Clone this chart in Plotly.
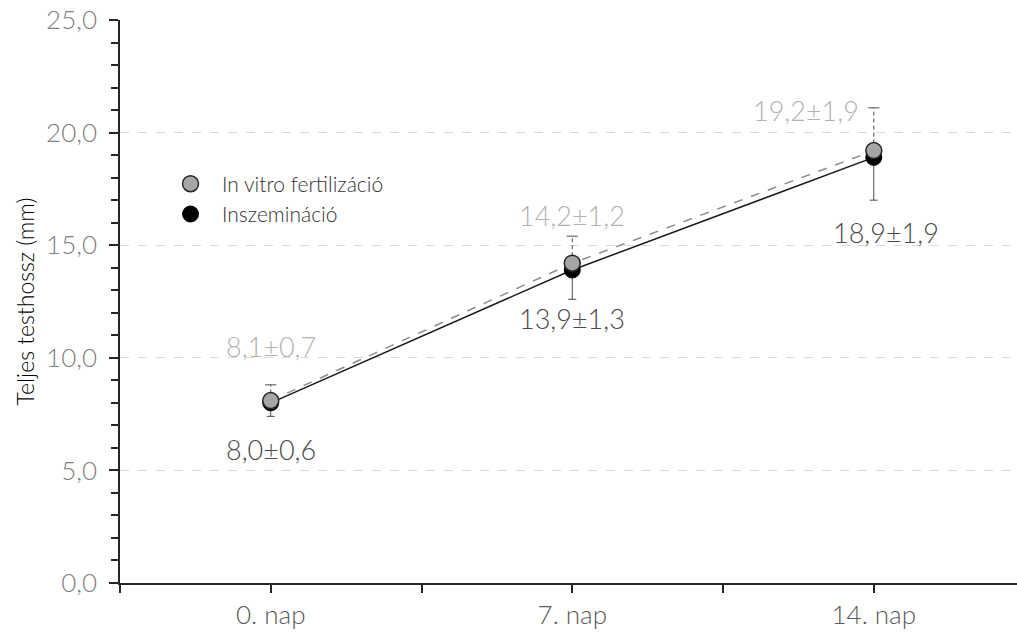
import plotly.graph_objects as go

# Mérési napok és átlagos teljes testhossz (mm) ± szórás
days = ["0. nap", "7. nap", "14. nap"]
ivf_mean = [8.1, 14.2, 19.2]
ivf_sd = [0.7, 1.2, 1.9]
ins_mean = [8.0, 13.9, 18.9]
ins_sd = [0.6, 1.3, 1.9]
y_ticks = [0, 5, 10, 15, 20, 25]

FONT = "Lato"
LIGHT = 300
x_pos = list(range(len(days)))


def fmt(v):
    return f"{v:.1f}".replace(".", ",")


fig = go.Figure()

# connecting lines
fig.add_trace(go.Scatter(x=x_pos, y=ins_mean, mode="lines",
                         line=dict(color="#1a1a1a", width=1.5),
                         showlegend=False, hoverinfo="skip"))
fig.add_trace(go.Scatter(x=x_pos, y=ivf_mean, mode="lines",
                         line=dict(color="#8c8c8c", width=1.5, dash="dash"),
                         showlegend=False, hoverinfo="skip"))

# IVF upper error bars: dashed stems with a cap on top
stem_x, stem_y = [], []
for x, m, s in zip(x_pos, ivf_mean, ivf_sd):
    stem_x += [x, x, None]
    stem_y += [m, m + s, None]
fig.add_trace(go.Scatter(x=stem_x, y=stem_y, mode="lines",
                         line=dict(color="#4d4d4d", width=1, dash="4px,3px"),
                         showlegend=False, hoverinfo="skip"))
fig.add_trace(go.Scatter(x=x_pos, y=[m + s for m, s in zip(ivf_mean, ivf_sd)],
                         mode="markers",
                         marker=dict(symbol="line-ew", size=8,
                                     line=dict(color="#4d4d4d", width=1)),
                         showlegend=False, hoverinfo="skip"))

# insemination markers with lower error bars
fig.add_trace(go.Scatter(
    x=x_pos, y=ins_mean, mode="markers", name="Inszemináció",
    legendrank=2,
    marker=dict(color="#000000", size=16, line=dict(color="#000000", width=1)),
    error_y=dict(type="data", symmetric=False, array=[0] * len(ins_sd),
                 arrayminus=ins_sd, color="#4d4d4d", thickness=1, width=4),
))
# IVF markers
fig.add_trace(go.Scatter(
    x=x_pos, y=ivf_mean, mode="markers", name="In vitro fertilizáció",
    legendrank=1,
    marker=dict(color="#a6a6a6", size=16, line=dict(color="#262626", width=1.5)),
))

# value labels
ivf_offsets = [(0, 54), (0, 48), (-68, 40)]
ins_offsets = [(0, -47), (0, -49), (12, -75)]
for x, m, s, (dx, dy) in zip(x_pos, ivf_mean, ivf_sd, ivf_offsets):
    fig.add_annotation(x=x, y=m, text=f"{fmt(m)}±{fmt(s)}", showarrow=False,
                       xshift=dx, yshift=dy, xanchor="center", yanchor="middle",
                       font=dict(family=FONT, size=27, weight=LIGHT, color="#b3b3b3"))
for x, m, s, (dx, dy) in zip(x_pos, ins_mean, ins_sd, ins_offsets):
    fig.add_annotation(x=x, y=m, text=f"{fmt(m)}±{fmt(s)}", showarrow=False,
                       xshift=dx, yshift=dy, xanchor="center", yanchor="middle",
                       font=dict(family=FONT, size=27, weight=LIGHT, color="#4a4a4a"))

# category ticks at centres and boundaries, labels only at centres
x_tickvals = [v / 2 for v in range(-1, 2 * len(days))]
x_ticktext = [days[int(v)] if float(v).is_integer() and v >= 0 else "" for v in x_tickvals]

fig.update_layout(
    width=1017, height=635,
    margin=dict(l=120, r=0, t=20, b=52),
    paper_bgcolor="white", plot_bgcolor="white",
    separators=", ",
    font=dict(family=FONT),
    legend=dict(x=0.0435, y=0.745, xanchor="left", yanchor="top",
                bgcolor="rgba(0,0,0,0)", itemwidth=53,
                font=dict(family=FONT, size=21, weight=LIGHT, color="#333333"),
                itemsizing="trace"),
    xaxis=dict(range=[-0.5, 2.475], tickmode="array", tickvals=x_tickvals,
               ticktext=x_ticktext, showgrid=False, zeroline=False,
               showline=True, linecolor="#262626", linewidth=1.5,
               ticks="outside", ticklen=8, tickwidth=1.5, tickcolor="#262626",
               tickfont=dict(family=FONT, size=26, weight=LIGHT, color="#595959")),
    yaxis=dict(range=[0, 25], tickmode="array", tickvals=y_ticks,
               tickformat=".1f", showgrid=True, gridcolor="#d9d9d9",
               griddash="dash", gridwidth=1, zeroline=False,
               showline=True, linecolor="#262626", linewidth=1.5,
               ticks="outside", ticklen=9, tickwidth=1.5, tickcolor="#262626",
               ticklabelstandoff=7,
               minor=dict(dtick=1, ticks="outside", ticklen=7, tickwidth=1.5,
                          tickcolor="#262626", showgrid=False),
               tickfont=dict(family=FONT, size=26, weight=LIGHT, color="#808080"),
               title=dict(text="Teljes testhossz (mm)",
                          font=dict(family=FONT, size=23, weight=LIGHT, color="#000000"),
                          standoff=5)),
)

fig.write_html("out.html")
